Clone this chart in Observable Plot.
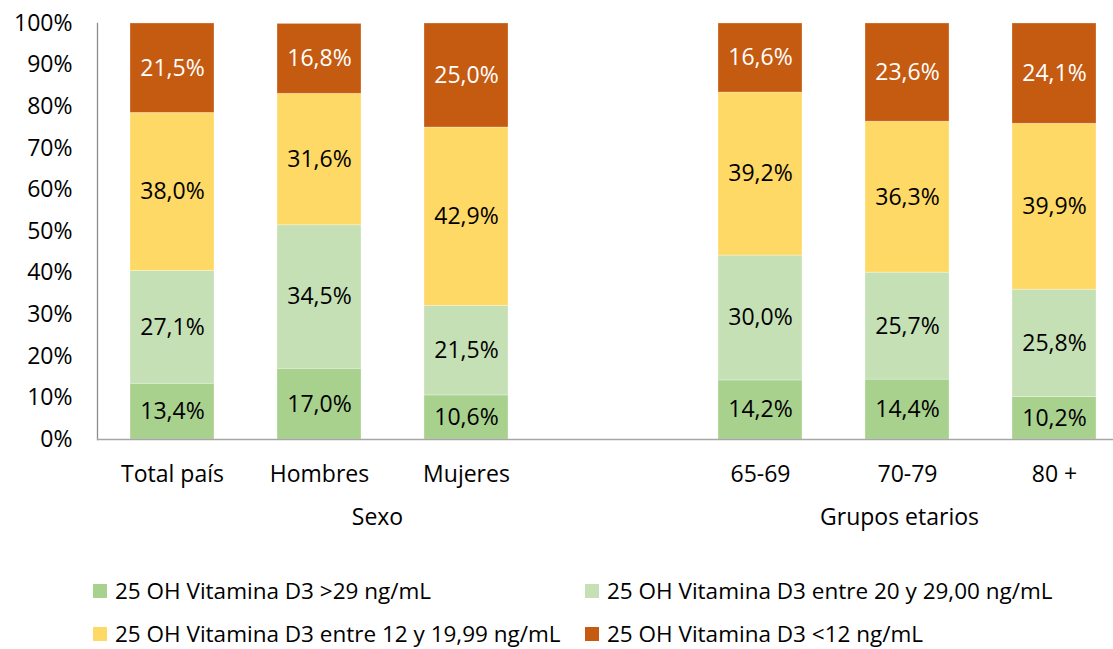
<!DOCTYPE html>
<html>
<head>
<meta charset="utf-8">
<script src="https://cdn.jsdelivr.net/npm/d3@7"></script>
<script src="https://cdn.jsdelivr.net/npm/@observablehq/plot@0.6"></script>
<style>
  html, body { margin: 0; padding: 0; background: #fff; }
  #wrap { position: relative; width: 1113px; height: 649px; font-family: "Open Sans", sans-serif; overflow: hidden; }
  #legend { position: absolute; left: 0; top: 0; width: 1113px; height: 649px; pointer-events: none; }
  .item { position: absolute; display: flex; align-items: center; font-size: 22.5px; line-height: 26px; color: #000; white-space: nowrap; }
  .sw { width: 14px; height: 14px; margin-right: 8px; }
</style>
</head>
<body>
<div id="wrap"><div id="chart"></div><div id="legend"></div></div>
<script>
const slots = ["Total país", "Hombres", "Mujeres", " ", "65-69", "70-79", "80 +"];
const categories = ["Total país", "Hombres", "Mujeres", "65-69", "70-79", "80 +"];
const levels = [
  "25 OH Vitamina D3 >29 ng/mL",
  "25 OH Vitamina D3 entre 20 y 29,00 ng/mL",
  "25 OH Vitamina D3 entre 12 y 19,99 ng/mL",
  "25 OH Vitamina D3 <12 ng/mL"
];
const colors = ["#a9d18e", "#c5e0b4", "#ffd966", "#c55a11"];
const gt29   = [13.4, 17.0, 10.6, 14.2, 14.4, 10.2];
const b20_29 = [27.1, 34.5, 21.5, 30.0, 25.7, 25.8];
const b12_20 = [38.0, 31.6, 42.9, 39.2, 36.3, 39.9];
const lt12   = [21.5, 16.8, 25.0, 16.6, 23.6, 24.1];
const yTicks = [0, 10, 20, 30, 40, 50, 60, 70, 80, 90, 100];
const groups = ["Sexo", "Grupos etarios"];

const series = [gt29, b20_29, b12_20, lt12];
const data = [];
categories.forEach((c, i) => series.forEach((s, j) => data.push({cat: c, level: levels[j], value: s[i]})));
const fmt = v => v.toFixed(1).replace(".", ",") + "%";
const FONT = 23;

const chart = Plot.plot({
  width: 1113,
  height: 540,
  marginTop: 23,
  marginBottom: 101,
  marginLeft: 97,
  marginRight: 0,
  style: {fontFamily: "Open Sans, sans-serif", fontSize: FONT + "px", color: "#000", background: "transparent"},
  x: {domain: slots, range: [96.25, 1128.75], paddingInner: 0.43, paddingOuter: 0.215, axis: null},
  y: {domain: [0, 100], axis: null},
  color: {domain: levels, range: colors},
  marks: [
    Plot.barY(data, Plot.stackY({x: "cat", y: "value", z: "level", fill: "level", order: levels, stroke: "white", strokeOpacity: 0.35, strokeWidth: 0.8})),
    Plot.text(data.filter(d => d.level !== levels[3]), Plot.stackY({x: "cat", y: "value", z: "level", order: levels, text: d => fmt(d.value), fill: "black", fontSize: FONT, lineAnchor: "middle"})),
    Plot.text(data, Plot.stackY({x: "cat", y: "value", z: "level", order: levels, text: d => d.level === levels[3] ? fmt(d.value) : "", fill: "white", fontSize: FONT, lineAnchor: "middle"})),
    Plot.axisY({ticks: yTicks, tickFormat: d => d + "%", tickSize: 0, tickPadding: 25, fontSize: FONT, label: null}),
    Plot.frame({anchor: "left", stroke: "#8c8c8c", strokeWidth: 1.3}),
    Plot.ruleY([0], {stroke: "#a6a6a6", strokeWidth: 1.3}),
    Plot.text(categories, {x: d => d, frameAnchor: "bottom", dy: 35, lineAnchor: "middle", fontSize: FONT}),
    Plot.text([groups[0]], {x: () => "Hombres", frameAnchor: "bottom", dx: 58, dy: 78, lineAnchor: "middle", fontSize: FONT}),
    Plot.text([groups[1]], {x: () => "70-79", frameAnchor: "bottom", dx: -8, dy: 78, lineAnchor: "middle", fontSize: FONT})
  ]
});
document.getElementById("chart").appendChild(chart);

const legend = document.getElementById("legend");
const pos = [[93, 591], [585, 591], [93, 634], [585, 634]];
levels.forEach((l, i) => {
  const it = document.createElement("div");
  it.className = "item";
  it.style.left = pos[i][0] + "px";
  it.style.top = (pos[i][1] - 13) + "px";
  it.style.height = "26px";
  const sw = document.createElement("span");
  sw.className = "sw";
  sw.style.background = colors[i];
  const tx = document.createElement("span");
  tx.textContent = l;
  it.appendChild(sw);
  it.appendChild(tx);
  legend.appendChild(it);
});
</script>
</body>
</html>
